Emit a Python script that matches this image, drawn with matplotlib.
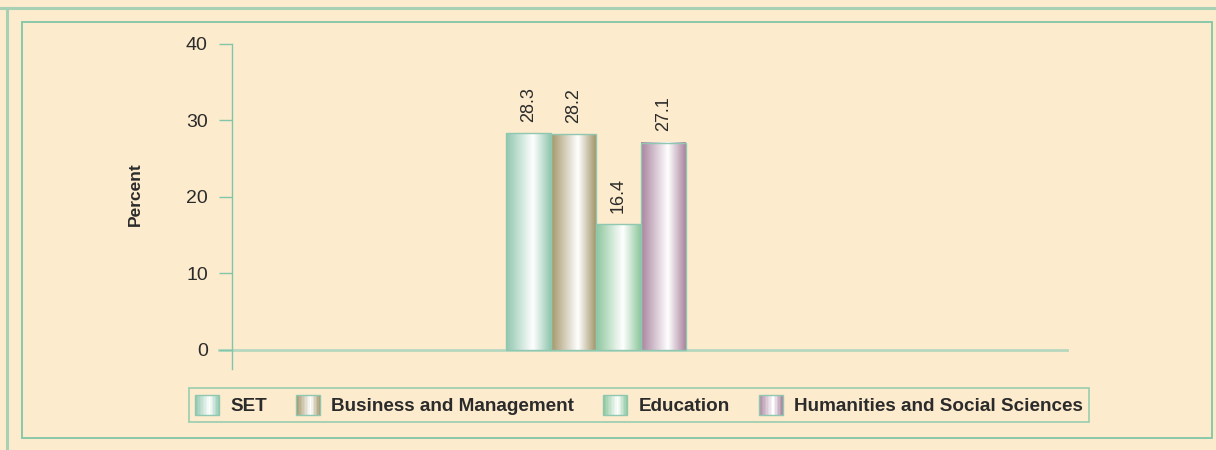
import numpy as np
import matplotlib.pyplot as plt
from matplotlib.colors import LinearSegmentedColormap
from matplotlib.patches import Rectangle
from matplotlib.legend_handler import HandlerBase

categories = ['SET', 'Business and Management', 'Education', 'Humanities and Social Sciences']
values = [28.3, 28.2, 16.4, 27.1]
edge_colors = ['#8fc6ae', '#a4966a', '#8cc69b', '#a9839e']
y_ticks = [0, 10, 20, 30, 40]

bg = '#fdebcd'
teal = '#80c6a8'
text_col = '#2b2b2b'

fig = plt.figure(figsize=(12.16, 4.5), dpi=100, facecolor=bg)

# decorative frame lines
fig.add_artist(plt.Line2D([0, 1], [1 - 7.5 / 450] * 2, color='#a8d0b5', lw=2.2, transform=fig.transFigure))
fig.add_artist(plt.Line2D([7 / 1216] * 2, [0, 1 - 7.5 / 450], color='#a8d0b5', lw=2.2, transform=fig.transFigure))
fig.add_artist(Rectangle((22 / 1216, 1 - 438 / 450), (1212 - 22) / 1216, (438 - 22) / 450,
                         transform=fig.transFigure, fill=False, edgecolor=teal, lw=1.3))

ax = fig.add_axes([232 / 1216, 1 - 369 / 450, (1067 - 232) / 1216, (369 - 44) / 450])
ax.patch.set_alpha(0)

x = np.arange(len(values))
bars = ax.bar(x, values, width=1.0, color='none', edgecolor='none')
ax.set_xlim(-6.59, 11.97)
ax.set_ylim(-2.5, 40)


def grad_cmap(c):
    return LinearSegmentedColormap.from_list('g', [(0, c), (0.6, 'white'), (1, c)])


for b, c, v in zip(bars, edge_colors, values):
    x0, w, h = b.get_x(), b.get_width(), b.get_height()
    grad = np.linspace(0, 1, 256).reshape(1, -1)
    ax.imshow(grad, extent=(x0, x0 + w, 0, h), aspect='auto', cmap=grad_cmap(c), zorder=2)
    ax.add_patch(Rectangle((x0, 0), w, h, fill=False, edgecolor='#8fc7b0', lw=1, zorder=3))
    ax.text(x0 + w / 2, h + 1.5, f'{v:.1f}', rotation=90, ha='center', va='bottom',
            fontsize=13, color=text_col, family='Liberation Sans')

ax.axhline(0, xmin=-13 / 835, xmax=1, color='#b6d8c0', lw=2, clip_on=False, zorder=1)

for s in ['top', 'right', 'bottom']:
    ax.spines[s].set_visible(False)
ax.spines['left'].set_color(teal)
ax.spines['left'].set_linewidth(1)
ax.set_xticks([])
ax.set_yticks(y_ticks)
ax.tick_params(axis='y', length=9.4, width=1, color=teal, pad=8, labelsize=14, labelcolor=text_col)
for t in ax.get_yticklabels():
    t.set_family('Liberation Sans')
ax.set_ylabel('Percent', fontsize=12.5, fontweight='bold', color=text_col, family='Liberation Sans')
ax.yaxis.set_label_coords(-89 / 835, 1 - (194 - 44) / 325)


class GradHandler(HandlerBase):
    def create_artists(self, legend, orig_handle, xdescent, ydescent, width, height, fontsize, trans):
        cm = grad_cmap(orig_handle.get_facecolor())
        arts = []
        n = 16
        for i in range(n):
            arts.append(Rectangle((-xdescent + width * i / n, -ydescent), width / n, height,
                                  facecolor=cm((i + 0.5) / n), edgecolor='none', transform=trans))
        arts.append(Rectangle((-xdescent, -ydescent), width, height, fill=False,
                              edgecolor='#8fc7b0', lw=1, transform=trans))
        return arts


handles = [Rectangle((0, 0), 1, 1, facecolor=c) for c in edge_colors]
leg = fig.legend(handles, categories, handler_map={Rectangle: GradHandler()},
                 loc='center', bbox_to_anchor=((190 + 1088) / 2 / 1216, 1 - 405 / 450),
                 ncol=4, frameon=True, fancybox=False, facecolor=bg, edgecolor=teal,
                 handlelength=1.27, handleheight=1.32, columnspacing=1.53, handletextpad=0.6,
                 borderpad=0.35, borderaxespad=0,
                 prop={'family': 'Liberation Sans', 'weight': 'bold', 'size': 13.6})
leg.get_frame().set_linewidth(1.2)
for t in leg.get_texts():
    t.set_color(text_col)

fig.savefig('out.png', dpi=100, facecolor=bg)
